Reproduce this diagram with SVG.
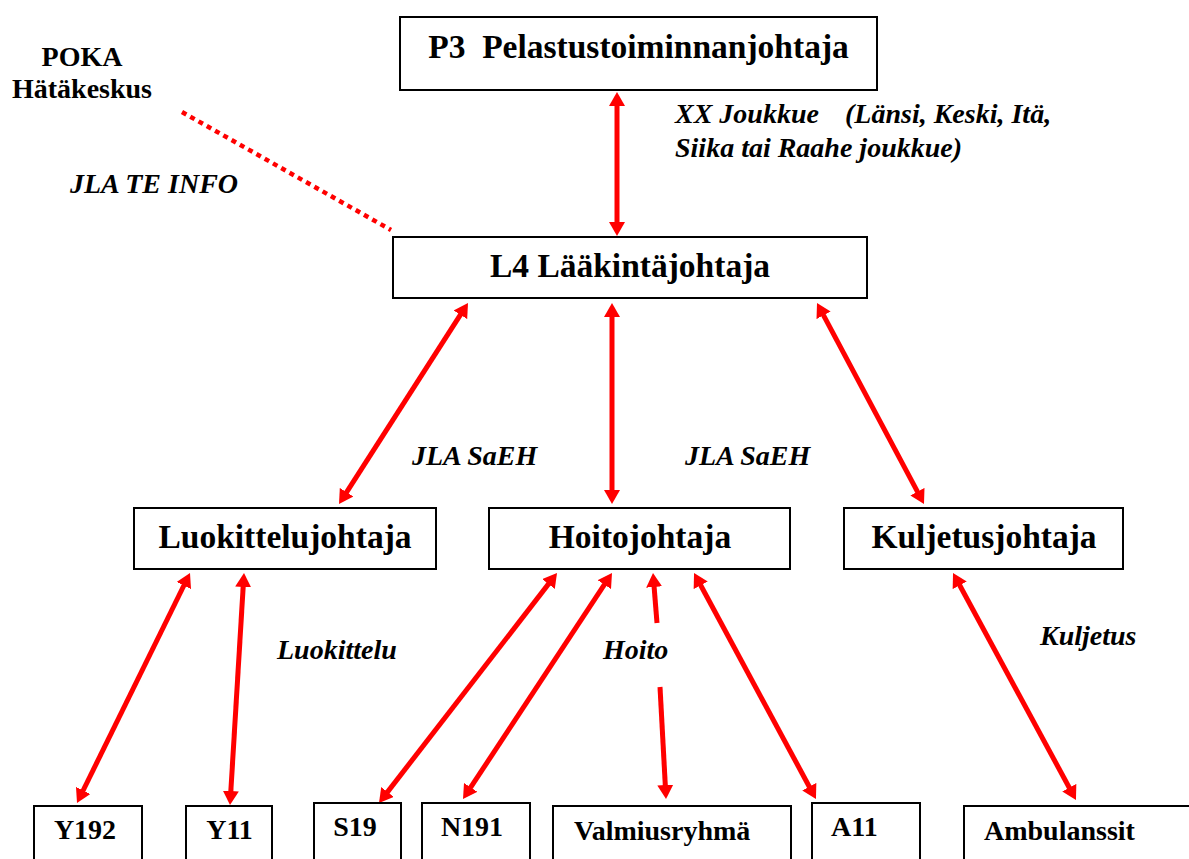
<svg xmlns="http://www.w3.org/2000/svg" width="1189" height="859" viewBox="0 0 1189 859">
<style>
.box{fill:#fff;stroke:#000;stroke-width:2}
.t{font-family:"Liberation Serif","Times New Roman",serif;font-weight:bold;fill:#000}
.big{font-size:33.5px}
.sm{font-size:28px}
.it{font-family:"Liberation Serif","Times New Roman",serif;font-weight:bold;font-style:italic;font-size:28px;fill:#000}
.c{text-anchor:middle}
.arr{stroke:#ff0000;stroke-width:5;fill:none;stroke-linecap:butt}
.dot{stroke:#ff0000;stroke-width:4.5;fill:none;stroke-dasharray:5 4.5}
</style>
<defs>
<marker id="ah" viewBox="0 0 14 16" refX="4" refY="8" markerWidth="14" markerHeight="16" markerUnits="userSpaceOnUse" orient="auto-start-reverse">
<path d="M0,0 L14,8 L0,16 Z" fill="#ff0000"/>
</marker>
</defs>
<rect width="1189" height="859" fill="#fff"/>

<g id="connectors">
<line class="dot" x1="182" y1="112" x2="391" y2="230"/>
<line class="arr" x1="617" y1="102" x2="617" y2="226" marker-start="url(#ah)" marker-end="url(#ah)"/>
<line class="arr" x1="462.6" y1="311.4" x2="344.4" y2="495.6" marker-start="url(#ah)" marker-end="url(#ah)"/>
<line class="arr" x1="612" y1="313" x2="612" y2="494" marker-start="url(#ah)" marker-end="url(#ah)"/>
<line class="arr" x1="821.7" y1="311.8" x2="919.3" y2="495.2" marker-start="url(#ah)" marker-end="url(#ah)"/>
<line class="arr" x1="185.6" y1="582" x2="81.4" y2="794" marker-start="url(#ah)" marker-end="url(#ah)"/>
<line class="arr" x1="243.4" y1="583" x2="230.6" y2="795" marker-start="url(#ah)" marker-end="url(#ah)"/>
<line class="arr" x1="550.9" y1="580.9" x2="385.1" y2="795.1" marker-start="url(#ah)" marker-end="url(#ah)"/>
<line class="arr" x1="606.5" y1="581.3" x2="468.5" y2="790.7" marker-start="url(#ah)" marker-end="url(#ah)"/>
<line class="arr" x1="653.8" y1="583" x2="657" y2="623" marker-start="url(#ah)"/>
<line class="arr" x1="660" y1="687" x2="665.5" y2="789" marker-end="url(#ah)"/>
<line class="arr" x1="698.8" y1="581.8" x2="811.2" y2="790.2" marker-start="url(#ah)" marker-end="url(#ah)"/>
<line class="arr" x1="957.8" y1="581.8" x2="1071.2" y2="791.2" marker-start="url(#ah)" marker-end="url(#ah)"/>
</g>

<g id="labels">
<text class="t sm c" x="82" y="66">POKA</text>
<text class="t sm c" x="82" y="98">Hätäkeskus</text>
<text class="it" x="70" y="193">JLA TE INFO</text>
<text class="it" x="675" y="123">XX Joukkue</text>
<text class="it" x="845" y="123">(Länsi, Keski, Itä,</text>
<text class="it" x="675" y="157">Siika tai Raahe joukkue)</text>
<text class="it" x="412" y="465">JLA SaEH</text>
<text class="it" x="685" y="465">JLA SaEH</text>
<text class="it" x="277" y="659">Luokittelu</text>
<text class="it" x="603" y="659">Hoito</text>
<text class="it" x="1040" y="645">Kuljetus</text>
</g>

<g id="node-p3">
<rect class="box" x="400" y="17" width="477" height="73"/>
<text class="t big c" x="638.5" y="58" xml:space="preserve">P3  Pelastustoiminnanjohtaja</text>
</g>
<g id="node-l4">
<rect class="box" x="393" y="237" width="474" height="61"/>
<text class="t big c" x="630" y="277">L4 Lääkintäjohtaja</text>
</g>
<g id="node-luokittelu">
<rect class="box" x="134" y="508" width="302" height="61"/>
<text class="t big c" x="285" y="548">Luokittelujohtaja</text>
</g>
<g id="node-hoito">
<rect class="box" x="489" y="508" width="301" height="61"/>
<text class="t big c" x="640" y="548">Hoitojohtaja</text>
</g>
<g id="node-kuljetus">
<rect class="box" x="844" y="508" width="279" height="61"/>
<text class="t big c" x="984" y="548">Kuljetusjohtaja</text>
</g>
<g id="node-y192">
<rect class="box" x="34" y="806" width="108" height="70"/>
<text class="t sm c" x="85" y="839">Y192</text>
</g>
<g id="node-y11">
<rect class="box" x="186" y="806" width="86" height="70"/>
<text class="t sm c" x="229.5" y="839">Y11</text>
</g>
<g id="node-s19">
<rect class="box" x="314" y="803" width="87" height="70"/>
<text class="t sm c" x="355" y="836">S19</text>
</g>
<g id="node-n191">
<rect class="box" x="422" y="803" width="108" height="70"/>
<text class="t sm c" x="472" y="836">N191</text>
</g>
<g id="node-valmiusryhma">
<rect class="box" x="553" y="806" width="238" height="70"/>
<text class="t sm" x="574" y="840">Valmiusryhmä</text>
</g>
<g id="node-a11">
<rect class="box" x="812" y="803" width="108" height="70"/>
<text class="t sm" x="831" y="836">A11</text>
</g>
<g id="node-ambulanssit">
<rect class="box" x="964" y="806" width="240" height="70"/>
<text class="t sm" x="984" y="840">Ambulanssit</text>
</g>
</svg>
